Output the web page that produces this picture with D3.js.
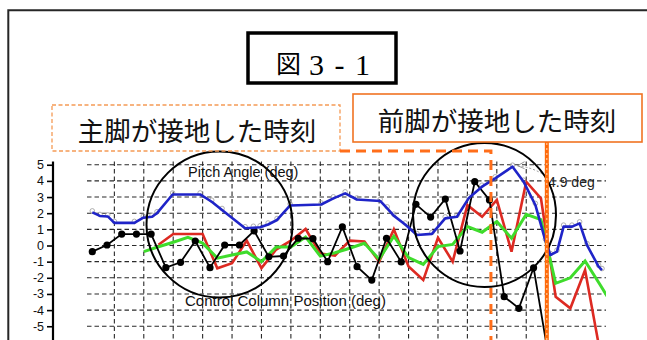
<!DOCTYPE html>
<html>
<head>
<meta charset="utf-8">
<script src="https://cdn.jsdelivr.net/npm/d3@7"></script>
<style>
  html, body { margin: 0; padding: 0; background: #fff; }
  svg { display: block; }
</style>
</head>
<body>
<svg id="chart" width="647" height="340"></svg>
<script>
// Control column position (deg), one value per sample (sample 0 .. 31)
const columnDeg = [-0.38, 0.03, 0.71, 0.71, 0.71, -1.37, -1.04, 0.28, -1.37, 0.03,
                   0.03, 0.9, -0.7, -0.65, 0.45, 0.42, -1.0, 1.15, -1.31, -2.14,
                   0.45, -1.02, 2.55, 1.76, 2.88, -0.34, 3.95, 2.82, -3.17, -3.89,
                   -1.38, -6.8];

// Red trace (deg), first value at sample 4.5, one per sample after that
const redStart = 4.5;
const redDeg = [0.05, 0.71, 0.71, 0.71, -1.41, -1.1, 0.3, -1.4, -0.25, 0.3,
                1.02, -0.5, -0.62, 0.3, 0.25, -1.0, 1.0, -1.3, -2.14, 0.48,
                -1.0, 2.5, 1.78, 2.82, -0.38, 3.95, 2.92, -3.17, -3.89, -1.52,
                -6.5];

// Green trace (deg), first value at sample 3.5
const greenStart = 3.5;
const greenDeg = [-0.38, -0.08, 0.2, 0.5, 0.15, -0.78, -0.59, -0.4, -1.0, -0.1,
                  -0.1, 0.53, -0.66, -0.45, -0.17, 0.14, -0.85, 0.58, -0.75, -1.17,
                  -0.07, 0.07, 1.17, 0.82, 1.48, 0.45, 1.93, 1.6, -2.34, -2.0,
                  -0.96, -2.4, -3.87];

// Pitch angle (deg) with its own sample times
const pitchT = [0, 0.52, 1.05, 1.5, 2.86, 3.47, 4.06, 4.4, 5.46, 7.33,
                8.12, 8.82, 10.39, 10.95, 11.41, 11.95, 12.56, 13.45, 15.56, 16.39,
                17.19, 17.99, 19.57, 20.05, 20.49, 21.27, 22.07, 23.09, 23.99, 24.79,
                25.58, 26.49, 27.39, 28.57, 29.32, 30.12, 30.8, 31.14, 31.59, 32.04,
                32.61, 33.13, 33.63, 34.42, 34.65];
const pitchDeg = [2.05, 1.83, 1.8, 1.4, 1.4, 1.72, 1.78, 2.0, 3.16, 3.16,
                  2.71, 2.2, 1.07, 1.1, 1.13, 1.3, 1.58, 2.48, 2.54, 2.92,
                  3.23, 2.85, 2.76, 2.3, 1.85, 1.3, 0.65, 0.72, 1.68, 1.78,
                  2.92, 3.64, 4.16, 4.88, 3.95, 2.51, 0.3, -0.59, -0.38, 1.17,
                  1.17, 1.37, 0.03, -1.31, -1.52];

// Axis ticks and vertical grid positions (in samples)
const yTicks = [5, 4, 3, 2, 1, 0, -1, -2, -3, -4, -5];
const gridT = [1.5, 3.5, 5.5, 7.5, 9.5, 11.5, 13.5, 15.5, 17.5, 19.5, 21.5, 23.5, 25.5, 27.5, 29.5];

// Touchdown instants (samples) and the peak pitch callout
const mainGearT = 27.1;
const noseGearT = 30.9;
const peakLabel = "4.9 deg";

const titleText = "図";
const titleNum = "3 - 1";
const mainGearLabel = "主脚が接地した時刻";
const noseGearLabel = "前脚が接地した時刻";
const pitchLabel = "Pitch Angle (deg)";
const columnLabel = "Control Column Position (deg)";

const svg = d3.select("#chart");

const x = d3.scaleLinear().domain([0, 31]).range([92.3, 548.3]);
const y = d3.scaleLinear().domain([-5, 5]).range([326.25, 164.75]);

const plotLeft = 87, plotRight = 606, plotBottom = 340;

// outer page frame
svg.append("path")
  .attr("d", "M8.3,345 V10.3 H660")
  .attr("fill", "none").attr("stroke", "#262626").attr("stroke-width", 2);

// clip for the traces
svg.append("defs").append("clipPath").attr("id", "plotClip")
  .append("rect").attr("x", plotLeft).attr("y", 150)
  .attr("width", plotRight - plotLeft).attr("height", plotBottom - 150);

// grid
const grid = svg.append("g").attr("stroke", "#2a2a2a").attr("stroke-width", 1.1)
  .attr("stroke-dasharray", "4.5,3");
grid.selectAll("line.h").data(yTicks).join("line").attr("class", "h")
  .attr("x1", plotLeft).attr("x2", plotRight)
  .attr("y1", d => y(d)).attr("y2", d => y(d));
grid.selectAll("line.v").data(gridT).join("line").attr("class", "v")
  .attr("x1", d => x(d)).attr("x2", d => x(d))
  .attr("y1", y(5.2)).attr("y2", plotBottom);

// y axis
const axisX = 53;
const yAxis = d3.axisLeft(y).tickValues(yTicks).tickSize(6).tickPadding(3)
  .tickFormat(d => String(d));
const ag = svg.append("g").attr("transform", `translate(${axisX},0)`).call(yAxis);
ag.select(".domain").remove();
ag.selectAll(".tick line").attr("stroke", "#000").attr("stroke-width", 1.6);
ag.selectAll(".tick text").attr("fill", "#111")
  .style("font-family", "'Liberation Sans', Arial, sans-serif").style("font-size", "12.5px");
svg.append("line").attr("x1", axisX).attr("x2", axisX)
  .attr("y1", y(5.2)).attr("y2", plotBottom)
  .attr("stroke", "#000").attr("stroke-width", 2.2);

// traces
const traces = svg.append("g").attr("clip-path", "url(#plotClip)");
const line = d3.line().x(d => x(d[0])).y(d => y(d[1]));

const redPts = redDeg.map((v, i) => [redStart + i, v]);
const greenPts = greenDeg.map((v, i) => [greenStart + i, v]);
const colPts = columnDeg.map((v, i) => [i, v]);
const pitchPts = pitchT.map((t, i) => [t, pitchDeg[i]]);

traces.append("path").attr("d", line(redPts))
  .attr("fill", "none").attr("stroke", "#dd2a22").attr("stroke-width", 2.6)
  .attr("stroke-linejoin", "miter");
traces.append("path").attr("d", line(greenPts))
  .attr("fill", "none").attr("stroke", "#3fdc2c").attr("stroke-width", 3)
  .attr("stroke-linejoin", "miter");
traces.append("path").attr("d", line(colPts))
  .attr("fill", "none").attr("stroke", "#000").attr("stroke-width", 1.8);
traces.selectAll("circle.col").data(colPts).join("circle").attr("class", "col")
  .attr("cx", d => x(d[0])).attr("cy", d => y(d[1])).attr("r", 3.6).attr("fill", "#000");

traces.selectAll("circle.pm").data(pitchPts).join("circle").attr("class", "pm")
  .attr("cx", d => x(d[0])).attr("cy", d => y(d[1]) - 1.5).attr("r", 2.3)
  .attr("fill", "none").attr("stroke", "#9a9a9a").attr("stroke-width", 0.8);
traces.append("path").attr("d", line(pitchPts))
  .attr("fill", "none").attr("stroke", "#1f24c8").attr("stroke-width", 2.6)
  .attr("stroke-linejoin", "round");

// peak callout
const peakIdx = pitchDeg.indexOf(d3.max(pitchDeg));
const px0 = x(pitchT[peakIdx]) + 5, py0 = y(pitchDeg[peakIdx]) - 1;
svg.append("path")
  .attr("d", `M${px0},${py0} Q${px0 + 18},${py0 + 2} ${px0 + 32},${py0 + 13}`)
  .attr("fill", "none").attr("stroke", "#8a8a8a").attr("stroke-width", 0.9)
  .attr("stroke-dasharray", "2,2");
svg.append("path")
  .attr("d", `M${px0 + 7},${py0 - 4} L${px0},${py0} L${px0 + 7},${py0 + 3}`)
  .attr("fill", "none").attr("stroke", "#8a8a8a").attr("stroke-width", 0.9);
svg.append("text").attr("x", 548).attr("y", 187).text(peakLabel)
  .style("font-family", "'Liberation Sans', Arial, sans-serif").style("font-size", "14px")
  .attr("fill", "#222");

// highlight circles
svg.append("ellipse").attr("cx", 219.5).attr("cy", 224.5).attr("rx", 73).attr("ry", 73)
  .attr("fill", "none").attr("stroke", "#000").attr("stroke-width", 2);
svg.append("ellipse").attr("cx", 484.5).attr("cy", 215).attr("rx", 71.5).attr("ry", 72)
  .attr("fill", "none").attr("stroke", "#000").attr("stroke-width", 2);

// series labels
svg.append("text").attr("x", 188).attr("y", 177).text(pitchLabel)
  .style("font-family", "'Liberation Sans', Arial, sans-serif").style("font-size", "14.5px")
  .attr("fill", "#111");
svg.append("text").attr("x", 185).attr("y", 306).text(columnLabel)
  .style("font-family", "'Liberation Sans', Arial, sans-serif").style("font-size", "15px")
  .attr("fill", "#111");

// main gear touchdown: dashed box, dashed connector and dashed time line
const mx = x(mainGearT);
svg.append("rect").attr("x", 52).attr("y", 105).attr("width", 288).attr("height", 46)
  .attr("fill", "none").attr("stroke", "#f59a55").attr("stroke-width", 1.3)
  .attr("stroke-dasharray", "4,2.5");
svg.append("path").attr("d", `M340,151 H${mx} V${plotBottom}`)
  .attr("fill", "none").attr("stroke", "#ff6e1a").attr("stroke-width", 3)
  .attr("stroke-dasharray", "10,6");
svg.append("text").attr("x", 197).attr("y", 141).attr("text-anchor", "middle")
  .text(mainGearLabel)
  .style("font-family", "'Noto Sans CJK JP', sans-serif").style("font-size", "26.5px")
  .attr("fill", "#111");

// nose gear touchdown: solid box and solid time line
const nx = x(noseGearT);
svg.append("rect").attr("x", 353).attr("y", 94).attr("width", 289).attr("height", 48)
  .attr("fill", "#fff").attr("stroke", "#f07322").attr("stroke-width", 1.6);
svg.append("line").attr("x1", nx).attr("x2", nx).attr("y1", 142).attr("y2", plotBottom)
  .attr("stroke", "#ff6a0a").attr("stroke-width", 4);
svg.append("line").attr("x1", nx).attr("x2", nx).attr("y1", 143).attr("y2", plotBottom)
  .attr("stroke", "#ffd9b8").attr("stroke-width", 1).attr("stroke-dasharray", "2,3");
svg.append("text").attr("x", 497).attr("y", 131).attr("text-anchor", "middle")
  .text(noseGearLabel)
  .style("font-family", "'Noto Sans CJK JP', sans-serif").style("font-size", "26.5px")
  .attr("fill", "#111");

// figure title
svg.append("rect").attr("x", 248).attr("y", 33).attr("width", 148).attr("height", 50)
  .attr("fill", "#fff").attr("stroke", "#000").attr("stroke-width", 3.5);
svg.append("text").attr("x", 288.5).attr("y", 73).attr("text-anchor", "middle")
  .text(titleText)
  .style("font-family", "'Noto Sans CJK JP', sans-serif").style("font-size", "25px")
  .attr("fill", "#000");
svg.append("text").attr("x", 309).attr("y", 75).text(titleNum)
  .style("font-family", "'Liberation Serif', serif").style("font-size", "30px")
  .style("word-spacing", "3px")
  .attr("fill", "#000");
</script>
</body>
</html>
